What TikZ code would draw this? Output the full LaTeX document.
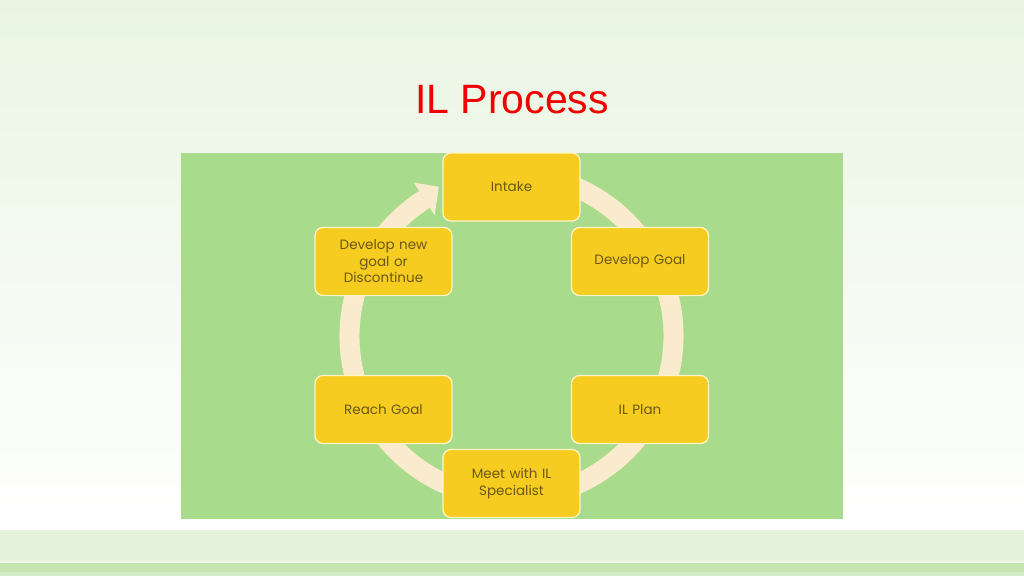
\documentclass[tikz,border=0pt]{standalone}
\usepackage{fontspec}
\setmainfont{Liberation Sans}
\newfontfamily\boxfont{Poppins}
\usetikzlibrary{calc}
\definecolor{bgtop}{HTML}{E9F5E2}
\definecolor{bandA}{HTML}{E5F2DC}
\definecolor{bandL}{HTML}{F1F8EC}
\definecolor{bandB}{HTML}{C6E5B0}
\definecolor{bandC}{HTML}{D4ECC5}
\definecolor{panel}{HTML}{A8DB8B}
\definecolor{ring}{HTML}{FAEBCF}
\definecolor{boxfill}{HTML}{F5CC1F}
\definecolor{boxline}{HTML}{FFF4C4}
\definecolor{boxtext}{HTML}{6B5716}
\definecolor{titlered}{HTML}{F00000}
\tikzset{
  stepbox/.style={draw=boxline, line width=1.3pt, fill=boxfill, rounded corners=8pt,
    minimum width=137pt, minimum height=68pt, inner sep=2pt, align=center,
    text width=130pt, font=\boxfont\fontsize{13.5}{16.5}\selectfont, text=boxtext},
  ringline/.style={draw=ring, line width=20pt}
}
\begin{document}
\begin{tikzpicture}[x=1pt,y=1pt]
\useasboundingbox (0,0) rectangle (1024,-576);
% background
\shade[top color=bgtop, bottom color=white] (0,0) rectangle (1024,-530);
\fill[bandA] (0,-530) rectangle (1024,-561);
\fill[bandL] (0,-561) rectangle (1024,-563);
\fill[bandB] (0,-563) rectangle (1024,-572);
\fill[bandC] (0,-572) rectangle (1024,-576);
% title
\node[font=\fontsize{41}{48}\selectfont, text=titlered, anchor=base] (title) at (512,-113) {IL Process};
% panel
\fill[panel] (181,-153) rectangle (843,-519);
% ring with arrow
\coordinate (c) at (511.5,-336);
\draw[ringline] ($(c)+(80:162)$) arc[start angle=80, end angle=-237.5, radius=162];
\fill[ring] ($(c)+(122.5:182)$) -- ($(c)+(116:166)$) -- ($(c)+(122.5:143)$) -- cycle;
% boxes
\node[stepbox] (intake) at (511.5,-187) {Intake};
\node[stepbox] (devgoal) at (640,-261.5) {Develop Goal};
\node[stepbox] (ilplan) at (640,-409.5) {IL Plan};
\node[stepbox] (meet) at (511.5,-483.5) {Meet with IL\\Specialist};
\node[stepbox] (reach) at (383.5,-409.5) {Reach Goal};
\node[stepbox] (devnew) at (383.5,-261.5) {Develop new\\goal or\\Discontinue};
\end{tikzpicture}
\end{document}
